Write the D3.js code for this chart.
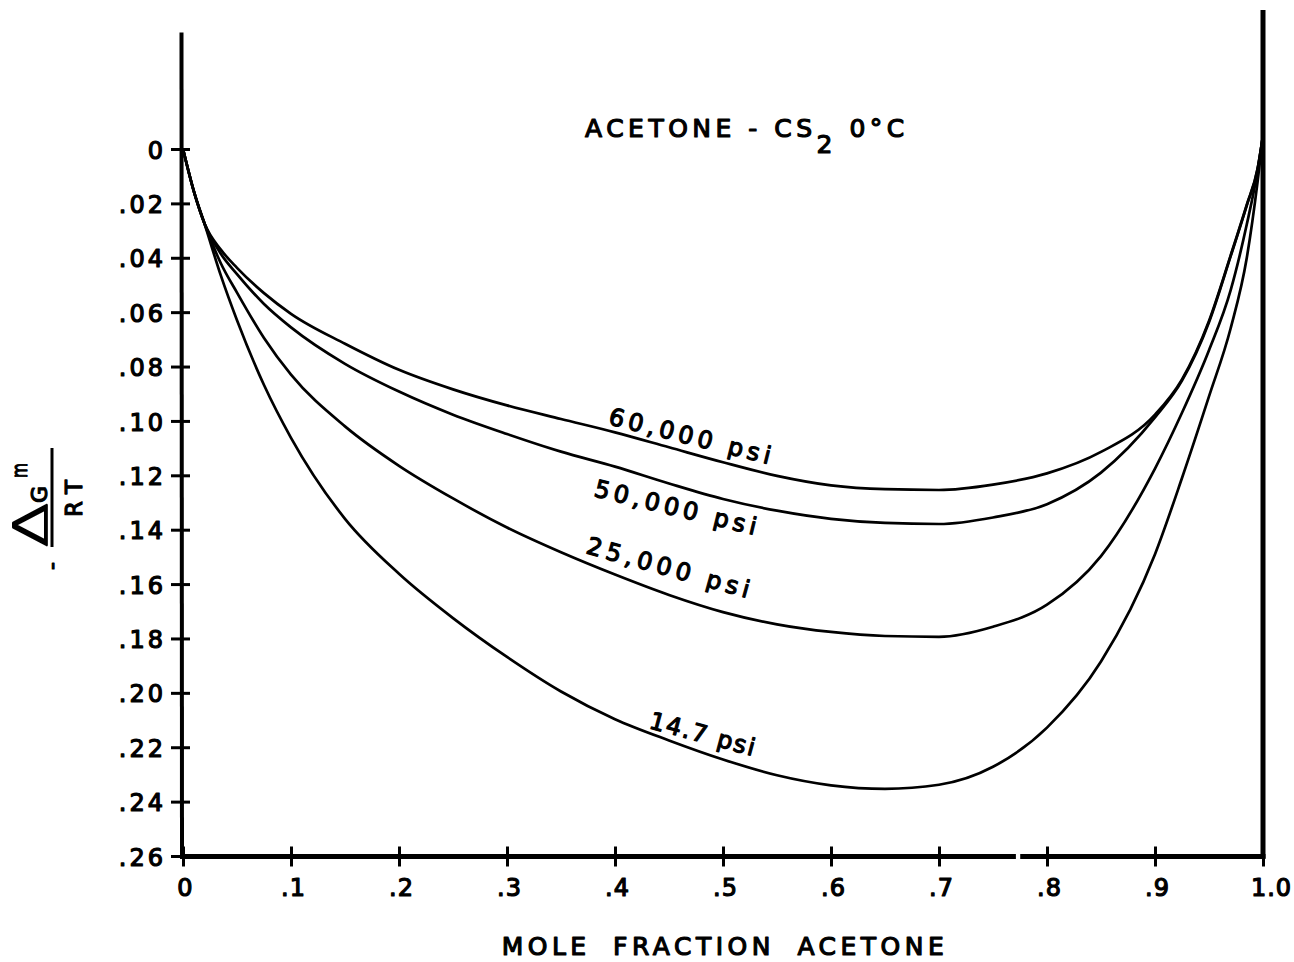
<!DOCTYPE html>
<html>
<head>
<meta charset="utf-8">
<script src="https://cdn.jsdelivr.net/npm/d3@7"></script>
<style>
  html, body { margin: 0; padding: 0; background: #fff; }
  svg { display: block; }
  text { font-family: "DejaVu Sans", sans-serif; fill: #000; }
  .lettered { stroke: #000; stroke-width: 1.2px; stroke-linejoin: round; }
</style>
</head>
<body>
<svg id="chart" width="1294" height="962"></svg>
<script>
// Excess free energy of mixing, acetone - CS2 at 0 °C, for four pressures.
const moleFraction = [0, 0.01, 0.02, 0.035, 0.05, 0.075, 0.1, 0.15, 0.2, 0.25, 0.3, 0.35, 0.4, 0.45, 0.5,
  0.55, 0.6, 0.65, 0.7, 0.75, 0.8, 0.85, 0.9, 0.925, 0.95, 0.97, 0.985, 0.995, 1.0];

const psi60000 = [0, 0.0155, 0.0275, 0.0370, 0.0437, 0.0530, 0.0606, 0.0716, 0.0812, 0.0884, 0.0943, 0.0993,
  0.1042, 0.1097, 0.1152, 0.1202, 0.1237, 0.1251, 0.1254, 0.1234, 0.1193, 0.1114, 0.0977, 0.0847, 0.0632,
  0.0392, 0.0205, 0.0072, -0.005];

const psi50000 = [0, 0.0155, 0.0275, 0.0385, 0.0460, 0.0570, 0.0656, 0.0790, 0.0892, 0.0977, 0.1048, 0.1113,
  0.1168, 0.1230, 0.1287, 0.1330, 0.1360, 0.1375, 0.1379, 0.1355, 0.1306, 0.1190, 0.0987, 0.0852, 0.0637,
  0.0395, 0.0207, 0.0074, -0.005];

const psi25000 = [0, 0.0155, 0.0275, 0.0420, 0.0528, 0.0695, 0.0830, 0.1020, 0.1165, 0.1285, 0.1392, 0.1483,
  0.1565, 0.1640, 0.1703, 0.1748, 0.1776, 0.1791, 0.1794, 0.1757, 0.1676, 0.1497, 0.1175, 0.0970, 0.0740,
  0.0520, 0.0277, 0.0080, -0.005];

const psi14_7 = [0, 0.0155, 0.0276, 0.0465, 0.0630, 0.0868, 0.1062, 0.1360, 0.1562, 0.1725, 0.1868, 0.1995,
  0.2097, 0.2175, 0.2245, 0.2303, 0.2340, 0.2353, 0.2338, 0.2272, 0.2128, 0.1885, 0.1490, 0.1210, 0.0910,
  0.0660, 0.0400, 0.0120, -0.005];

const seriesNames = ["60,000 psi", "50,000 psi", "25,000 psi", "14.7 psi"];
const seriesValues = [psi60000, psi50000, psi25000, psi14_7];

const xTicks = [0, 0.1, 0.2, 0.3, 0.4, 0.5, 0.6, 0.7, 0.8, 0.9, 1.0];
const xTickLabels = ["0", ".1", ".2", ".3", ".4", ".5", ".6", ".7", ".8", ".9", "1.0"];
const yTicks = [0, 0.02, 0.04, 0.06, 0.08, 0.10, 0.12, 0.14, 0.16, 0.18, 0.20, 0.22, 0.24, 0.26];
const yTickLabels = ["0", ".02", ".04", ".06", ".08", ".10", ".12", ".14", ".16", ".18", ".20", ".22", ".24", ".26"];

const svg = d3.select("#chart");
const x = d3.scaleLinear().domain([0, 1]).range([183, 1263]);
const y = d3.scaleLinear().domain([0, 0.26]).range([149, 856]);

// frame: left and right verticals run above the zero line, bottom line has a small break
const frame = svg.append("g").attr("stroke", "#000").attr("fill", "none");
frame.append("line")
  .attr("x1", x(0) - 1.5).attr("x2", x(0) - 1)
  .attr("y1", y(-0.0428)).attr("y2", y(0.26) + 2)
  .attr("stroke-width", 4);
frame.append("line")
  .attr("x1", x(1)).attr("x2", x(1))
  .attr("y1", y(-0.0511)).attr("y2", y(0.26) + 2.5)
  .attr("stroke-width", 5);
frame.append("line")
  .attr("x1", x(0) - 3).attr("x2", x(0.7712))
  .attr("y1", y(0.26) + 0.5).attr("y2", y(0.26) + 0.5)
  .attr("stroke-width", 5);
frame.append("line")
  .attr("x1", x(0.7752)).attr("x2", x(1) + 2.5)
  .attr("y1", y(0.26) + 0.5).attr("y2", y(0.26) + 0.5)
  .attr("stroke-width", 5);

// y axis ticks and labels
const yAxis = svg.append("g")
  .attr("transform", `translate(${x(0) - 1},0)`)
  .call(d3.axisLeft(y).tickValues(yTicks).tickFormat((d, i) => yTickLabels[i]).tickSize(11).tickPadding(5));
yAxis.select(".domain").remove();
yAxis.selectAll(".tick line").attr("x1", 8).attr("stroke", "#000").attr("stroke-width", 3);
yAxis.selectAll(".tick text")
  .attr("class", "lettered")
  .attr("dy", "0.38em")
  .style("font-family", "DejaVu Sans")
  .style("font-size", "24px")
  .style("letter-spacing", "3px");

// x axis ticks and labels
const xAxis = svg.append("g")
  .attr("transform", `translate(0,${y(0.26) + 0.5})`)
  .call(d3.axisBottom(x).tickValues(xTicks).tickFormat((d, i) => xTickLabels[i]).tickSize(10).tickPadding(12));
xAxis.select(".domain").remove();
xAxis.selectAll(".tick line").attr("y1", -10).attr("stroke", "#000").attr("stroke-width", 3);
xAxis.selectAll(".tick text")
  .attr("class", "lettered")
  .attr("dx", (d, i) => i === xTicks.length - 1 ? 8 : 2)
  .style("font-family", "DejaVu Sans")
  .style("font-size", "24px")
  .style("letter-spacing", "1px");

// curves
const line = d3.line()
  .x(d => x(d[0]))
  .y(d => y(d[1]))
  .curve(d3.curveMonotoneX);

svg.append("g")
  .selectAll("path")
  .data(seriesValues)
  .join("path")
  .attr("d", vals => line(moleFraction.map((m, i) => [m, vals[i]])))
  .attr("fill", "none")
  .attr("stroke", "#000")
  .attr("stroke-width", 2.7)
  .attr("stroke-linejoin", "round");

// curve labels, written along each curve
const labelPlacement = [
  { at: [0.393, 0.1011], angle: 14, len: 166 },
  { at: [0.3796, 0.1276], angle: 13.6, len: 166 },
  { at: [0.3722, 0.1486], angle: 15.5, len: 168 },
  { at: [0.4306, 0.2129], angle: 15, len: 108 }
];
svg.append("g")
  .selectAll("text")
  .data(seriesNames)
  .join("text")
  .attr("class", "lettered")
  .attr("transform", (d, i) => {
    const p = labelPlacement[i];
    return `translate(${x(p.at[0])},${y(p.at[1])}) rotate(${p.angle})`;
  })
  .attr("textLength", (d, i) => labelPlacement[i].len)
  .attr("lengthAdjust", "spacing")
  .style("font-size", "24px")
  .text(d => d);

// title
const title = svg.append("text")
  .attr("class", "lettered")
  .attr("x", 585).attr("y", 137)
  .style("font-size", "25px")
  .style("letter-spacing", "4.5px");
title.append("tspan").text("ACETONE - CS");
title.append("tspan").attr("dy", 16).text("2");
title.append("tspan").attr("dy", -16).text(" 0°C");

// x axis title
svg.append("text")
  .attr("class", "lettered")
  .attr("x", (x(0) + x(1)) / 2 + 2).attr("y", 955)
  .attr("text-anchor", "middle")
  .style("font-size", "25px")
  .style("letter-spacing", "4.5px")
  .style("word-spacing", "10px")
  .text("MOLE FRACTION ACETONE");

// y axis title: - ΔG^m / RT, set sideways
const yt = svg.append("g").attr("transform", "translate(52,497) rotate(-90)");
yt.append("line")
  .attr("x1", -50).attr("x2", 49).attr("y1", 0).attr("y2", 0)
  .attr("stroke", "#000").attr("stroke-width", 3);
yt.append("text")
  .attr("x", -50).attr("y", -5)
  .attr("textLength", 44).attr("lengthAdjust", "spacingAndGlyphs")
  .attr("stroke", "#000").attr("stroke-width", 2).attr("stroke-linejoin", "round")
  .style("font-family", "DejaVu Sans")
  .style("font-weight", 200)
  .style("font-size", "46px").text("Δ");
yt.append("text").attr("class", "lettered")
  .attr("x", -6).attr("y", -5)
  .style("font-size", "22px").text("G");
yt.append("text").attr("class", "lettered")
  .attr("x", 19).attr("y", -25)
  .attr("textLength", 15).attr("lengthAdjust", "spacingAndGlyphs")
  .style("font-size", "22px").text("m");
yt.append("text").attr("class", "lettered")
  .attr("x", -20).attr("y", 30)
  .attr("textLength", 37).attr("lengthAdjust", "spacing")
  .style("font-size", "23px").text("RT");
yt.append("text").attr("class", "lettered")
  .attr("x", -73).attr("y", 7)
  .style("font-size", "22px").text("-");
</script>
</body>
</html>
